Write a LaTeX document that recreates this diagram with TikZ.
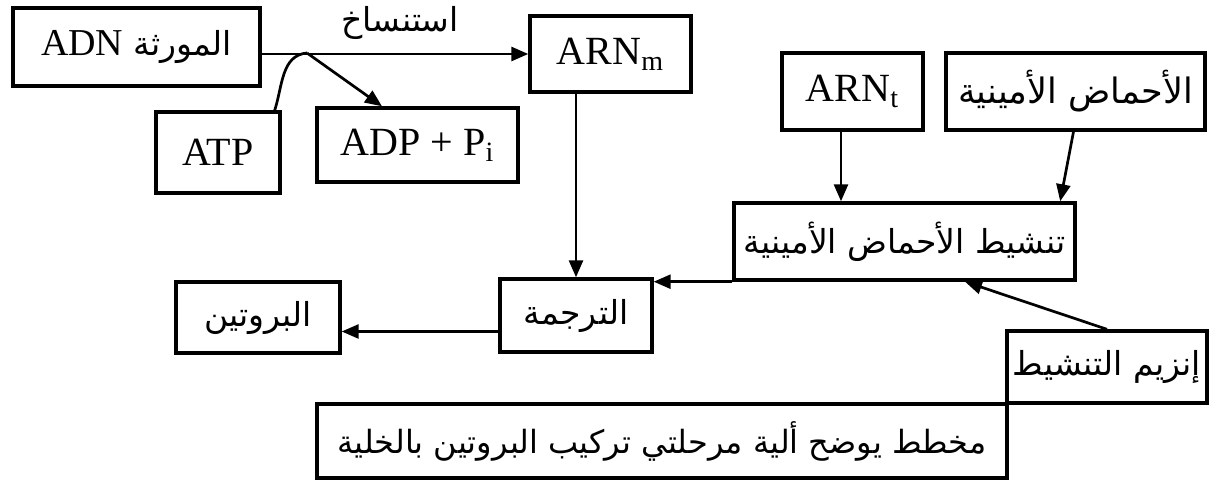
\documentclass[tikz,border=0pt]{standalone}
\usepackage{fontspec}
\setmainfont{Liberation Serif}
\newfontfamily\arabicfont[Script=Arabic]{DejaVu Sans}
\TeXXeTstate=1
\usetikzlibrary{arrows.meta}
\newcommand{\artxt}[1]{{\arabicfont\beginR #1\endR}}
\begin{document}
\begin{tikzpicture}[x=0.5pt, y=-0.5pt,
  box/.style={draw, line width=1.7pt, inner sep=0pt, align=center},
  lat/.style={font=\fontsize{20}{24}\selectfont},
  arab/.style={font=\fontsize{16.5}{20}\selectfont},
  conn/.style={line width=1.35pt},
  arr/.style={conn, -{Triangle[length=8.5pt,width=7pt]}}]
\useasboundingbox (0,0) rectangle (1227,485);
% nodes
\node[box, arab, minimum width=123.5pt, minimum height=39pt] (adn) at (136.5,47)
  {\artxt{المورثة \beginL{\rmfamily\fontsize{19}{20}\selectfont ADN}\endL}};
\node[box, lat, minimum width=80.5pt, minimum height=38pt] (arnm) at (610.5,54)
  {ARN\textsubscript{m}};
\node[box, lat, minimum width=62pt, minimum height=40.5pt] (atp) at (218,152.5) {ATP};
\node[box, lat, minimum width=100.5pt, minimum height=37pt] (adp) at (417.5,145)
  {ADP + P\textsubscript{i}};
\node[box, lat, minimum width=70.5pt, minimum height=38.5pt] (arnt) at (852.5,91.5)
  {ARN\textsubscript{t}};
\node[box, arab, font=\fontsize{17.5}{20}\selectfont, minimum width=129.5pt, minimum height=38.5pt] (amino) at (1075.5,91.5)
  {\artxt{الأحماض الأمينية}};
\node[box, arab, minimum width=170.5pt, minimum height=38.5pt] (act) at (904.5,241.5)
  {\artxt{تنشيط الأحماض الأمينية}};
\node[box, arab, minimum width=76pt, minimum height=36.5pt] (trad) at (576,315.5)
  {\artxt{الترجمة}};
\node[box, arab, minimum width=82pt, minimum height=35.5pt] (prot) at (258,317.5)
  {\artxt{البروتين}};
\node[box, arab, minimum width=100pt, minimum height=36pt] (enz) at (1107,367)
  {\artxt{إنزيم التنشيط}};
\node[box, arab, font=\fontsize{16}{20}\selectfont, minimum width=345pt, minimum height=37pt] (cap) at (662,441)
  {\artxt{مخطط يوضح ألية مرحلتي تركيب البروتين بالخلية}};
\node[arab, inner sep=0pt] (lbl) at (400,23) {\artxt{استنساخ}};
% connectors
\coordinate (j) at (307,53);
\draw[arr] (adn.east |- arnm.west) -- (arnm.west);
\draw[conn] ([xshift=-3.5pt]atp.north east) to[out=72, in=185] (j);
\draw[arr] (j) -- ([xshift=-17.75pt]adp.north);
\draw[arr] (arnm.south -| trad.north) -- (trad.north);
\draw[arr] (arnt.south -| 841,0) -- (act.north -| 841,0);
\draw[arr] ([xshift=-1pt]amino.south) -- ([xshift=-8.25pt]act.north east |- act.north);
\draw[arr] (act.south west) -- (act.south west -| trad.east);
\draw[arr] ([yshift=-8pt]trad.west) -- ([yshift=-8pt]trad.west -| prot.east);
\draw[arr] (enz.north) -- ([xshift=30.25pt]act.south);
\end{tikzpicture}
\end{document}
